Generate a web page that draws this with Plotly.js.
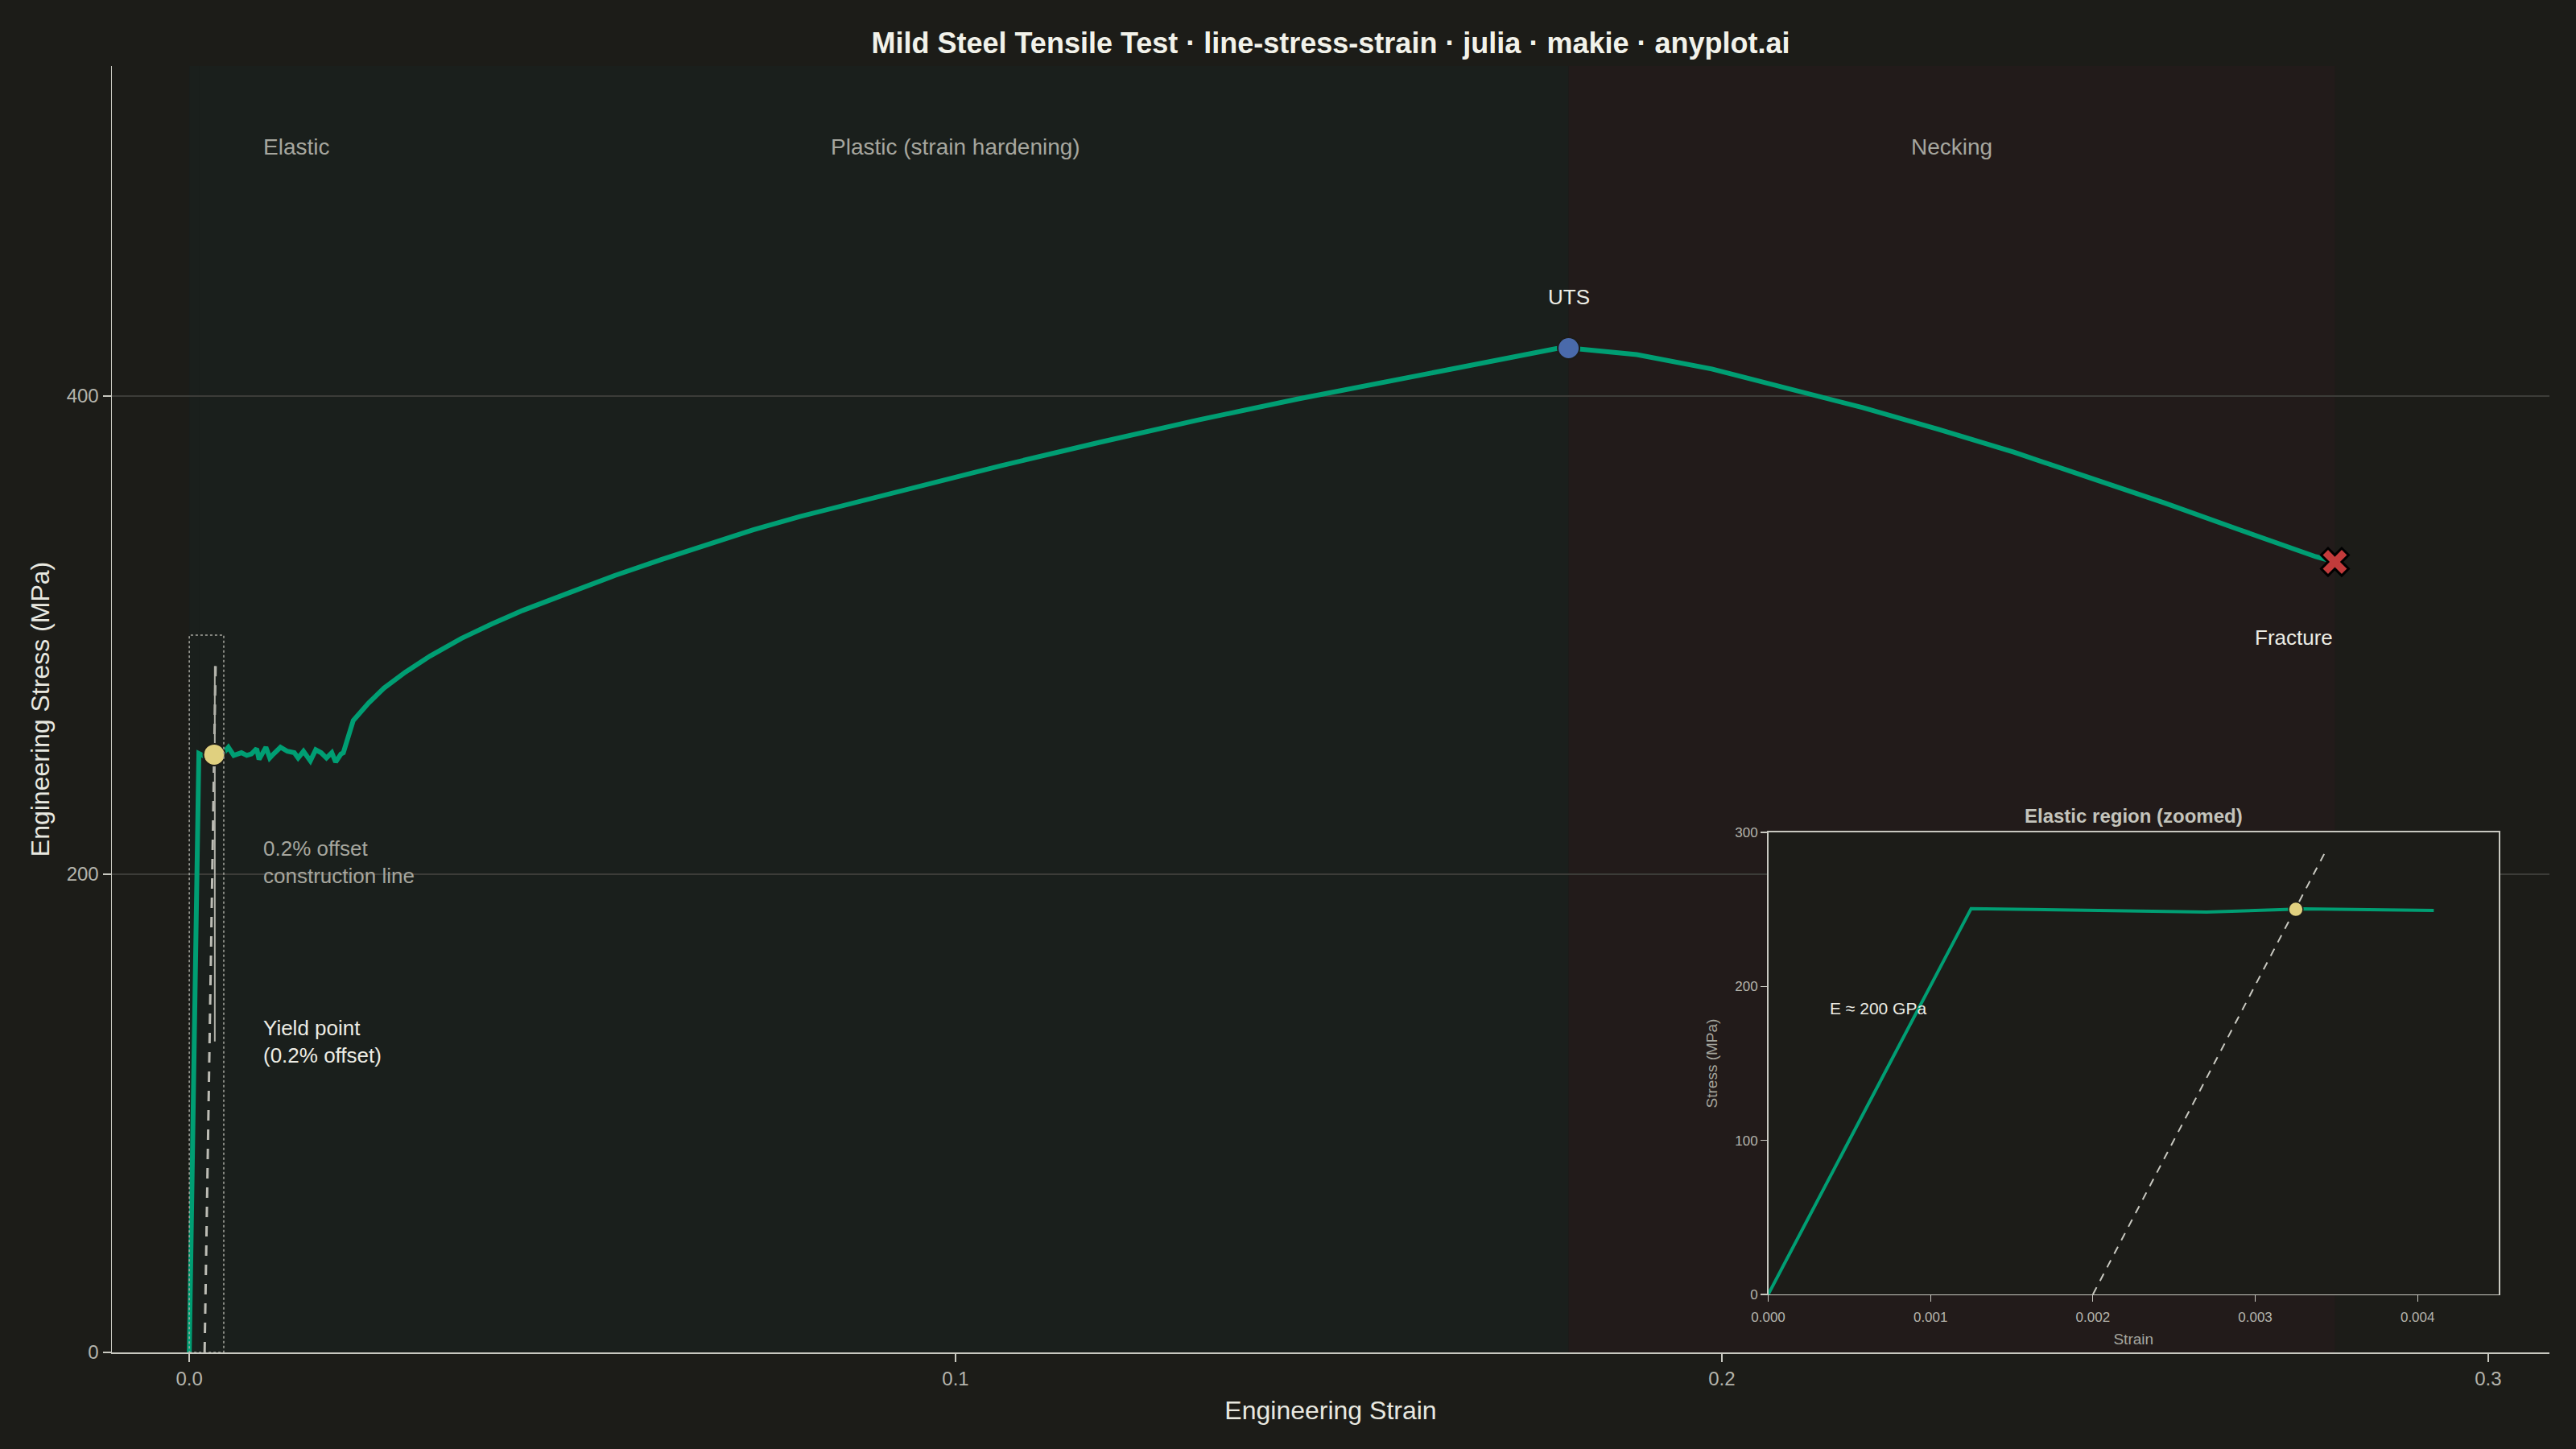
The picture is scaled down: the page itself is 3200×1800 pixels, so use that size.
<!DOCTYPE html>
<html>
<head>
<meta charset="utf-8">
<script src="https://cdn.plot.ly/plotly-3.0.1.min.js"></script>
<style>html,body{margin:0;padding:0;background:#1c1c18;}#chart{width:3200px;height:1800px;}</style>
</head>
<body>
<div id="chart"></div>
<script>
// ---- Data ----
const strain = [0, 0.00125, 0.0027, 0.0033, 0.0041, 0.0051, 0.0058, 0.0068, 0.0075, 0.0081, 0.0088, 0.0091, 0.0100, 0.0105, 0.0110, 0.0119, 0.0128, 0.0137, 0.0142, 0.0149, 0.0158, 0.0165, 0.0172, 0.0179, 0.0186, 0.0191, 0.0198, 0.0201,
  0.0214, 0.0234, 0.0254, 0.0282, 0.0314, 0.0355, 0.0395, 0.0435, 0.0495, 0.0555, 0.0616, 0.0676, 0.0736, 0.0797, 0.0932, 0.1060, 0.1189, 0.1317, 0.1446, 0.1575, 0.1703, 0.1784, 0.1800,
  0.1889, 0.1987, 0.2085, 0.2184, 0.2282, 0.2381, 0.2479, 0.2578, 0.2676, 0.2775, 0.2800];
const stress = [0, 250.5, 248.2, 250.3, 249.3, 253.1, 249.7, 250.8, 249.7, 250.3, 252.5, 248.0, 253.1, 248.6, 250.3, 253.1, 251.4, 250.8, 248.6, 251.4, 247.4, 252.0, 250.8, 248.6, 250.8, 246.9, 250.3, 250.8,
  264.3, 271.6, 277.8, 284.5, 291.2, 298.6, 304.7, 310.3, 317.6, 324.9, 331.6, 337.8, 344.0, 349.6, 360.8, 370.9, 380.7, 390.0, 398.7, 406.8, 414.7, 419.8, 420.1,
  417.3, 411.3, 403.5, 395.1, 386.1, 376.5, 365.9, 355.2, 344.0, 332.8, 330.6];

const offsetStrain = [0.002, 0.00343];
const offsetStress = [0, 287];

const leaderStrain = [0.00333, 0.00333];
const leaderStress = [130, 287];

const yieldPt = {strain: [0.00325], stress: [250]};
const utsPt = {strain: [0.18], stress: [420]};
const fracturePt = {strain: [0.28], stress: [330.6]};

const regionNames = ["Elastic", "Plastic (strain hardening)", "Necking"];
const regionStart = [0, 0.00125, 0.18];
const regionEnd = [0.00125, 0.18, 0.28];
const regionLabelX = [0.0094, 0.1, 0.23];

const xTickVals = [0, 0.1, 0.2, 0.3];
const xTickText = ["0.0", "0.1", "0.2", "0.3"];
const yTickVals = [0, 200, 400];
const yTickText = ["0", "200", "400"];

const insetXTickVals = [0, 0.001, 0.002, 0.003, 0.004];
const insetXTickText = ["0.000", "0.001", "0.002", "0.003", "0.004"];
const insetYTickVals = [0, 100, 200, 300];
const insetYTickText = ["0", "100", "200", "300"];
const insetMaxStrain = 0.0045;

// ---- Styling ----
const FONT = "Liberation Sans, Arial, Helvetica, sans-serif";
const BG = "#1c1c18";
const GREEN = "#009E73";
const bandColors = ["#1a1f1c", "#1a1f1c", "#221b1a"];

const insetStrain = [], insetStress = [];
strain.forEach((s, i) => { if (s <= insetMaxStrain) { insetStrain.push(s); insetStress.push(stress[i]); } });

const traces = [
  {x: offsetStrain, y: offsetStress, mode: "lines", line: {color: "#bdbdb5", width: 3, dash: "13px,11px"}, hoverinfo: "skip"},
  {x: leaderStrain, y: leaderStress, mode: "lines", line: {color: "#b0b0a8", width: 2}, hoverinfo: "skip"},
  {x: strain, y: stress, mode: "lines", line: {color: GREEN, width: 6}},
  {x: yieldPt.strain, y: yieldPt.stress, mode: "markers", marker: {color: "#e0d07f", size: 27, line: {color: "#1c1c18", width: 2}}},
  {x: utsPt.strain, y: utsPt.stress, mode: "markers", marker: {color: "#4a6aab", size: 27, line: {color: "#1c1c18", width: 2}}},
  {x: fracturePt.strain, y: fracturePt.stress, mode: "markers", marker: {symbol: "x", color: "#c23b3b", size: 30, line: {color: "#000000", width: 3}}},
  // inset
  {x: offsetStrain, y: offsetStress, xaxis: "x2", yaxis: "y2", mode: "lines", line: {color: "#c8c8c0", width: 2, dash: "10px,9px"}, hoverinfo: "skip"},
  {x: insetStrain, y: insetStress, xaxis: "x2", yaxis: "y2", mode: "lines", line: {color: GREEN, width: 4}},
  {x: yieldPt.strain, y: yieldPt.stress, xaxis: "x2", yaxis: "y2", mode: "markers", marker: {color: "#e0d07f", size: 18, line: {color: "#1c1c18", width: 1.5}}}
];

const shapes = regionNames.map((n, i) => ({
  type: "rect", xref: "x", yref: "paper", x0: regionStart[i], x1: regionEnd[i], y0: 0, y1: 1,
  fillcolor: bandColors[i], line: {width: 0}, layer: "below"
}));
shapes.push({type: "rect", xref: "x", yref: "y", x0: 0, x1: insetMaxStrain, y0: 0, y1: 300,
  line: {color: "#a8a8a0", width: 1.5, dash: "dot"}, fillcolor: "rgba(0,0,0,0)", layer: "above"});

const annotations = regionNames.map((n, i) => ({
  text: n, x: regionLabelX[i], y: 504, xref: "x", yref: "y", showarrow: false,
  xanchor: i === 0 ? "left" : "center", yanchor: "middle",
  font: {family: FONT, size: 28, color: "#a6a69e"}
}));
annotations.push(
  {text: "UTS", x: utsPt.strain[0], y: 441.5, xref: "x", yref: "y", showarrow: false, xanchor: "center", yanchor: "middle", font: {family: FONT, size: 26, color: "#ecece4"}},
  {text: "Fracture", x: fracturePt.strain[0], y: 299, xref: "x", yref: "y", showarrow: false, xanchor: "right", yanchor: "middle", font: {family: FONT, size: 26, color: "#ecece4"}},
  {text: "0.2% offset<br>construction line", x: 0.0094, y: 205, xref: "x", yref: "y", showarrow: false, xanchor: "left", yanchor: "middle", align: "left", font: {family: FONT, size: 26, color: "#a6a69e"}},
  {text: "Yield point<br>(0.2% offset)", x: 0.0094, y: 130, xref: "x", yref: "y", showarrow: false, xanchor: "left", yanchor: "middle", align: "left", font: {family: FONT, size: 26, color: "#ecece4"}},
  {text: "E ≈ 200 GPa", x: 0.00037, y: 186, xref: "x2", yref: "y2", showarrow: false, xanchor: "left", yanchor: "middle", font: {family: FONT, size: 21, color: "#ecece4"}},
  {text: "<b>Elastic region (zoomed)</b>", x: 0.82935, y: 0.4171, xref: "paper", yref: "paper", showarrow: false, xanchor: "center", yanchor: "middle", font: {family: FONT, size: 24, color: "#c4c4bc"}}
);

const layout = {
  width: 3200, height: 1800,
  paper_bgcolor: BG, plot_bgcolor: BG,
  margin: {l: 139, r: 33, t: 82, b: 120},
  showlegend: false,
  title: {text: "<b>Mild Steel Tensile Test · line-stress-strain · julia · makie · anyplot.ai</b>", x: 0.5, xref: "paper", y: 1 - 53/1800, yref: "container", xanchor: "center", yanchor: "middle", font: {family: FONT, size: 36, color: "#f2f2ea"}},
  font: {family: FONT, color: "#b4b4ac"},
  xaxis: {
    range: [-0.0101, 0.308], tickvals: xTickVals, ticktext: xTickText,
    showgrid: false, zeroline: false, showline: true, linecolor: "#c8c8c0", linewidth: 2,
    ticks: "outside", ticklen: 10, tickwidth: 1.5, tickcolor: "#c8c8c0",
    tickfont: {family: FONT, size: 24, color: "#b4b4ac"},
    title: {text: "Engineering Strain", standoff: 16, font: {family: FONT, size: 32, color: "#e8e8e0"}},
    automargin: false
  },
  yaxis: {
    range: [0, 538], tickvals: yTickVals, ticktext: yTickText,
    showgrid: true, gridcolor: "#3c3c38", gridwidth: 1.5, zeroline: false,
    showline: true, linecolor: "#c8c8c0", linewidth: 1.5,
    ticks: "outside", ticklen: 10, tickwidth: 1.5, tickcolor: "#c8c8c0",
    tickfont: {family: FONT, size: 24, color: "#b4b4ac"},
    title: {text: "Engineering Stress (MPa)", standoff: 11, font: {family: FONT, size: 32, color: "#e8e8e0"}},
    automargin: false
  },
  xaxis2: {
    domain: [0.6795, 0.9792], anchor: "y2", range: [0, insetMaxStrain],
    tickvals: insetXTickVals, ticktext: insetXTickText,
    showgrid: false, zeroline: false, showline: true, mirror: true, linecolor: "#c8c8c0", linewidth: 1.5,
    ticks: "outside", ticklen: 8, tickwidth: 1.2, tickcolor: "#c8c8c0", ticklabelstandoff: 4,
    tickfont: {family: FONT, size: 17, color: "#b4b4ac"},
    title: {text: "Strain", standoff: 12, font: {family: FONT, size: 19, color: "#a6a69e"}},
    automargin: false
  },
  yaxis2: {
    domain: [0.04506, 0.4043], anchor: "x2", range: [0, 300],
    tickvals: insetYTickVals, ticktext: insetYTickText,
    showgrid: false, zeroline: false, showline: true, mirror: true, linecolor: "#c8c8c0", linewidth: 1.5,
    ticks: "outside", ticklen: 8, tickwidth: 1.2, tickcolor: "#c8c8c0",
    tickfont: {family: FONT, size: 17, color: "#b4b4ac"},
    title: {text: "Stress (MPa)", standoff: 16, font: {family: FONT, size: 19, color: "#a6a69e"}},
    automargin: false
  },
  shapes: shapes,
  annotations: annotations
};

Plotly.newPlot("chart", traces, layout, {displayModeBar: false, staticPlot: true});
</script>
</body>
</html>
